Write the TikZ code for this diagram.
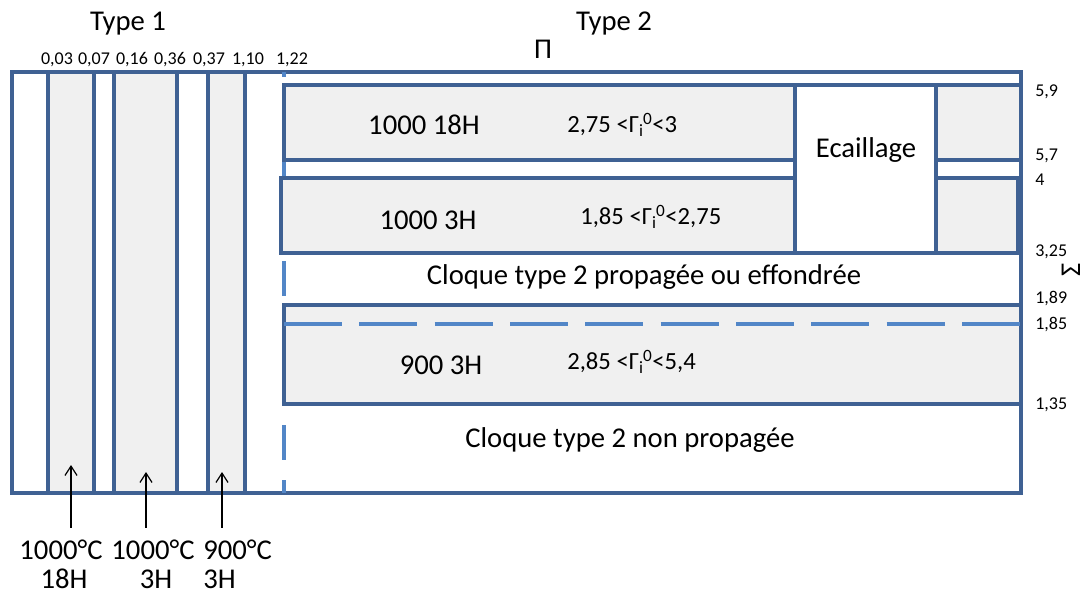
\documentclass[tikz,border=0pt]{standalone}
\usepackage{fontspec}
\setmainfont{Carlito}
\usetikzlibrary{arrows.meta}
\definecolor{bd}{HTML}{3F6193}
\definecolor{dashblue}{HTML}{5286C7}
\definecolor{fl}{HTML}{F0F0F0}
\newcommand{\gam}{Γ\textsubscript{i}\kern-0.5pt\textsuperscript{0}}
\begin{document}
\begin{tikzpicture}[x=0.75pt,y=-0.75pt,
  frame/.style={draw=bd, line width=2.6pt},
  shaded/.style={frame, fill=fl},
  dashv/.style={draw=dashblue, line width=2.6pt, dash pattern=on 26pt off 15pt, dash phase=22pt},
  dashh/.style={draw=dashblue, line width=2.6pt, dash pattern=on 43.5pt off 13pt},
  big/.style={font=\fontsize{21.5}{26}\selectfont, inner sep=0pt},
  mid/.style={font=\fontsize{18.5}{22}\selectfont, inner sep=0pt},
  small/.style={font=\fontsize{13.5}{16}\selectfont, inner sep=0pt},
  arr/.style={-{Straight Barb[length=7pt,width=9pt]}, line width=0.9pt, black}]
\useasboundingbox (0,0) rectangle (1088,597);
% Type 1 columns
\fill[fl] (48,72) rectangle (94,493);
\fill[fl] (114,72) rectangle (177,493);
\fill[fl] (208,72) rectangle (245,493);
\draw[frame] (12,72) rectangle (1021,493);
\foreach \x in {48,94,114,177,208,245} \draw[frame] (\x,72) -- (\x,493);
% dashed separator type1/type2
\coordinate (sepT) at (284,72);
\coordinate (sepB) at (284,493);
\draw[dashv] (sepT) -- (sepB);
% Type 2 boxes
\draw[shaded] (284,85) rectangle (1021,160);
\draw[shaded] (281,178) rectangle (1018,253);
\draw[shaded] (284,305) rectangle (1021,404);
\draw[frame, fill=white] (795,85) rectangle (936,253);
\coordinate (dhL) at (284,324);
\coordinate (dhR) at (1021,324);
\draw[dashh] (dhL) -- (dhR);
% titles
\node[big] (t1) at (128,24) {Type 1};
\node[big] (t2) at (614,24) {Type 2};
\node[big] (pi) at (543,49) {Π};
\node[big, rotate=90] (sig) at (1071,270) {Σ};
% top labels
\foreach \x/\t [count=\i] in {57/{0,03},94/{0,07},132/{0,16},170/{0,36},209/{0,37},248/{1,10},292/{1,22}}
  \node[small] (top\i) at (\x,60) {\t};
% right labels
\node[small, anchor=west] (r1) at (1035,92) {5,9};
\node[small, anchor=west] (r2) at (1035,156) {5,7};
\node[small, anchor=west] (r3) at (1035,180) {4};
\node[small, anchor=west] (r4) at (1035,252) {3,25};
\node[small, anchor=west] (r5) at (1035,298) {1,89};
\node[small, anchor=west] (r6) at (1035,324) {1,85};
\node[small, anchor=west] (r7) at (1035,405) {1,35};
% box texts
\node[big] (b1) at (424,125) {1000 18H};
\node[mid, anchor=west] (g1) at (567,125) {2,75 <\gam<3};
\node[big] (b2) at (428,220) {1000 3H};
\node[mid, anchor=west] (g2) at (580,217) {1,85 <\gam<2,75};
\node[big] (ec) at (866,150) {Ecaillage};
\node[big] (c1) at (644,277) {Cloque type 2 propagée ou effondrée};
\node[big] (b3) at (441,365) {900 3H};
\node[mid, anchor=west] (g3) at (567,362) {2,85 <\gam<5,4};
\node[big] (c2) at (630,440) {Cloque type 2 non propagée};
% bottom labels
\node[big] (l1a) at (61,550) {1000°C};
\node[big] (l1b) at (64,579) {18H};
\node[big] (l2a) at (153,550) {1000°C};
\node[big] (l2b) at (156,579) {3H};
\node[big, anchor=west] (l3a) at (203,550) {900°C};
\node[big, anchor=west] (l3b) at (203,579) {3H};
\coordinate (h1) at (71,465);
\coordinate (h2) at (146,472);
\coordinate (h3) at (222,472);
\draw[arr, shorten <=9pt] (h1 |- l1a.north) -- (h1);
\draw[arr, shorten <=9pt] (h2 |- l2a.north) -- (h2);
\draw[arr, shorten <=9pt] (h3 |- l3a.north) -- (h3);
\end{tikzpicture}
\end{document}
